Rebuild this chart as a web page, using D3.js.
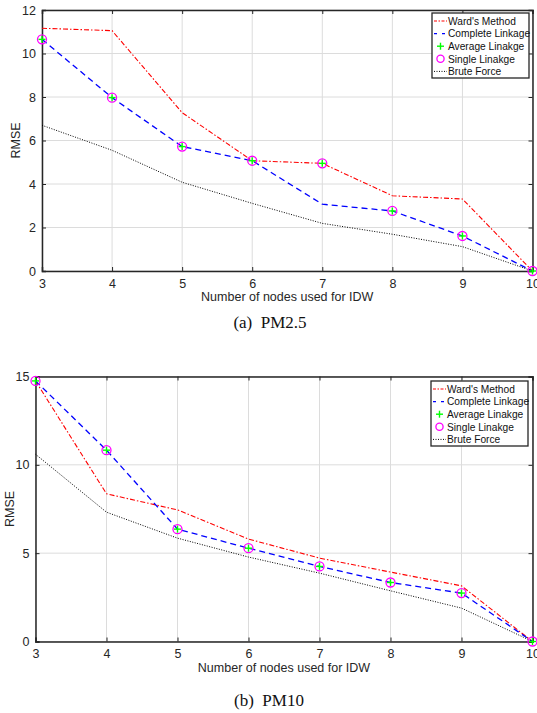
<!DOCTYPE html>
<html>
<head>
<meta charset="utf-8">
<script src="https://cdn.jsdelivr.net/npm/d3@7"></script>
<style>
  body { margin: 0; background: #fff; }
  text { font-family: "Liberation Sans", Arial, sans-serif; }
</style>
</head>
<body>
<div id="chart"></div>
<script>
// donnees
const nodes = [3, 4, 5, 6, 7, 8, 9, 10];

const pm25Ward = [11.16, 11.05, 7.28, 5.07, 4.95, 3.46, 3.31, 0];
const pm25Complete = [10.65, 7.97, 5.72, 5.07, 3.07, 2.76, 1.61, 0];
const pm25Average = [10.65, 7.97, 5.72, 5.07, 4.95, 2.76, 1.61, 0];
const pm25Single = [10.65, 7.97, 5.72, 5.07, 4.95, 2.76, 1.61, 0];
const pm25Brute = [6.70, 5.55, 4.08, 3.11, 2.19, 1.69, 1.12, 0];

const pm10Ward = [14.75, 8.36, 7.45, 5.80, 4.72, 3.93, 3.15, 0];
const pm10Complete = [14.75, 10.83, 6.36, 5.28, 4.25, 3.34, 2.74, 0];
const pm10Average = [14.75, 10.83, 6.36, 5.28, 4.25, 3.34, 2.74, 0];
const pm10Single = [14.75, 10.83, 6.36, 5.28, 4.25, 3.34, 2.74, 0];
const pm10Brute = [10.60, 7.32, 5.85, 4.78, 3.87, 2.87, 1.89, 0];

const pm25Ticks = [0, 2, 4, 6, 8, 10, 12];
const pm10Ticks = [0, 5, 10, 15];
const legendNames = ["Ward's Method", "Complete Linkage", "Average Linakge", "Single Linakge", "Brute Force"];

const svg = d3.select("#chart")
  .append("svg")
  .attr("width", 537)
  .attr("height", 713);

const axisColor = "#262626";

function drawPanel(opt) {
  const x = d3.scaleLinear().domain([3, 10]).range([opt.left, opt.right]);
  const y = d3.scaleLinear().domain([0, opt.ymax]).range([opt.bottom, opt.top]);
  const g = svg.append("g");

  // grille
  g.append("g").selectAll("line.gx")
    .data(nodes)
    .enter().append("line")
    .attr("x1", d => x(d)).attr("x2", d => x(d))
    .attr("y1", opt.top).attr("y2", opt.bottom)
    .attr("stroke", "#dcdcdc").attr("stroke-width", 1);
  g.append("g").selectAll("line.gy")
    .data(opt.ticks)
    .enter().append("line")
    .attr("x1", opt.left).attr("x2", opt.right)
    .attr("y1", d => y(d)).attr("y2", d => y(d))
    .attr("stroke", "#dcdcdc").attr("stroke-width", 1);

  // axes
  const xAxis = g.append("g")
    .attr("transform", `translate(0,${opt.bottom})`)
    .call(d3.axisBottom(x).tickValues(nodes).tickSize(-4).tickPadding(8).tickFormat(d3.format("d")));
  const yAxis = g.append("g")
    .attr("transform", `translate(${opt.left},0)`)
    .call(d3.axisLeft(y).tickValues(opt.ticks).tickSize(-4).tickPadding(6).tickFormat(d3.format("d")));
  const xTop = g.append("g")
    .attr("transform", `translate(0,${opt.top})`)
    .call(d3.axisTop(x).tickValues(nodes).tickSize(-4).tickFormat(""));
  const yRight = g.append("g")
    .attr("transform", `translate(${opt.right},0)`)
    .call(d3.axisRight(y).tickValues(opt.ticks).tickSize(-4).tickFormat(""));
  [xAxis, yAxis, xTop, yRight].forEach(a => {
    a.select(".domain").attr("stroke", axisColor).attr("stroke-width", 1.5);
    a.selectAll(".tick line").attr("stroke", axisColor);
    a.selectAll(".tick text").attr("fill", axisColor).style("font-size", "12.5px")
      .style("font-family", "'Liberation Sans', Arial, sans-serif");
  });

  // titres d'axes
  g.append("text")
    .attr("x", (opt.left + opt.right) / 2)
    .attr("y", opt.bottom + 30)
    .attr("text-anchor", "middle")
    .attr("fill", axisColor)
    .style("font-size", "12.5px")
    .text("Number of nodes used for IDW");
  g.append("text")
    .attr("transform", `translate(${opt.left - 22},${(opt.top + opt.bottom) / 2}) rotate(-90)`)
    .attr("text-anchor", "middle")
    .attr("fill", axisColor)
    .style("font-size", "12.5px")
    .text("RMSE");

  // courbes
  const line = d3.line().x((d, i) => x(nodes[i])).y(d => y(d));
  g.append("path").datum(opt.ward)
    .attr("d", line).attr("fill", "none")
    .attr("stroke", "#ff0000").attr("stroke-width", 1.1)
    .attr("stroke-dasharray", "5,2,1.5,2");
  g.append("path").datum(opt.complete)
    .attr("d", line).attr("fill", "none")
    .attr("stroke", "#0000ff").attr("stroke-width", 1.3)
    .attr("stroke-dasharray", "6,4");
  g.append("path").datum(opt.brute)
    .attr("d", line).attr("fill", "none")
    .attr("stroke", "#000").attr("stroke-width", 1)
    .attr("stroke-dasharray", "1,1.5");

  // marqueurs
  g.append("g").selectAll("circle")
    .data(opt.single)
    .enter().append("circle")
    .attr("cx", (d, i) => x(nodes[i]))
    .attr("cy", d => y(d))
    .attr("r", 4.5)
    .attr("fill", "none")
    .attr("stroke", "#ff00ff")
    .attr("stroke-width", 1.3);
  const plus = g.append("g").selectAll("g")
    .data(opt.average)
    .enter().append("g")
    .attr("transform", (d, i) => `translate(${x(nodes[i])},${y(d)})`);
  plus.append("line").attr("x1", -3.5).attr("x2", 3.5).attr("stroke", "#00ff00").attr("stroke-width", 1.4);
  plus.append("line").attr("y1", -3.5).attr("y2", 3.5).attr("stroke", "#00ff00").attr("stroke-width", 1.4);

  // legende
  const lg = g.append("g").attr("transform", `translate(${opt.legX},${opt.legY})`);
  lg.append("rect")
    .attr("width", 97).attr("height", 65)
    .attr("fill", "#fff").attr("stroke", axisColor).attr("stroke-width", 1.3);
  const rowH = 12.6;
  legendNames.forEach((name, i) => {
    const cy = 8 + i * rowH;
    if (i === 0) {
      lg.append("line").attr("x1", 2).attr("x2", 15).attr("y1", cy).attr("y2", cy)
        .attr("stroke", "#ff0000").attr("stroke-width", 1.2).attr("stroke-dasharray", "3,1.5,1.5,1.5");
    } else if (i === 1) {
      lg.append("line").attr("x1", 2).attr("x2", 16).attr("y1", cy).attr("y2", cy)
        .attr("stroke", "#0000ff").attr("stroke-width", 1.3).attr("stroke-dasharray", "3,5");
    } else if (i === 2) {
      lg.append("line").attr("x1", 5).attr("x2", 12).attr("y1", cy).attr("y2", cy).attr("stroke", "#00ff00").attr("stroke-width", 1.4);
      lg.append("line").attr("x1", 8.5).attr("x2", 8.5).attr("y1", cy - 3.5).attr("y2", cy + 3.5).attr("stroke", "#00ff00").attr("stroke-width", 1.4);
    } else if (i === 3) {
      lg.append("circle").attr("cx", 8.5).attr("cy", cy).attr("r", 3.6)
        .attr("fill", "none").attr("stroke", "#ff00ff").attr("stroke-width", 1.3);
    } else {
      lg.append("line").attr("x1", 2).attr("x2", 15).attr("y1", cy).attr("y2", cy)
        .attr("stroke", "#000").attr("stroke-width", 1).attr("stroke-dasharray", "1,1.5");
    }
    lg.append("text")
      .attr("x", 16).attr("y", cy + 3.8)
      .attr("fill", "#111")
      .style("font-size", "10.2px")
      .text(name);
  });

  // legende de la figure
  svg.append("text")
    .attr("x", opt.capX).attr("y", opt.capY)
    .attr("text-anchor", "middle")
    .style("font-family", "'Liberation Serif', 'Times New Roman', serif")
    .style("font-size", "17px")
    .attr("fill", "#111")
    .attr("xml:space", "preserve")
    .text(opt.caption);
}

drawPanel({
  left: 42, right: 532.5, top: 10, bottom: 271, ymax: 12,
  ticks: pm25Ticks,
  ward: pm25Ward, complete: pm25Complete, average: pm25Average, single: pm25Single, brute: pm25Brute,
  legX: 432, legY: 13,
  caption: "(a)  PM2.5", capX: 270, capY: 328
});

drawPanel({
  left: 35.5, right: 532.5, top: 376.5, bottom: 641.5, ymax: 15,
  ticks: pm10Ticks,
  ward: pm10Ward, complete: pm10Complete, average: pm10Average, single: pm10Single, brute: pm10Brute,
  legX: 431, legY: 381,
  caption: "(b)  PM10", capX: 269, capY: 706
});
</script>
</body>
</html>
